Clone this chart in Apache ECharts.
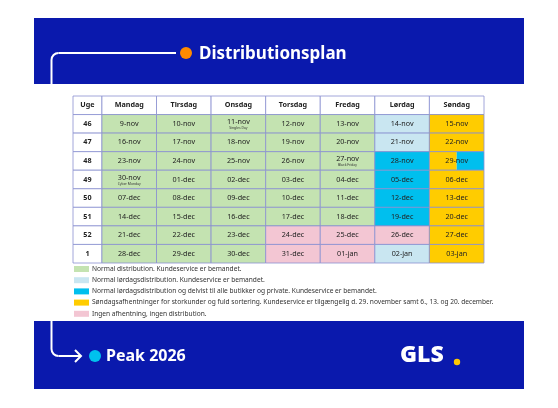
<!DOCTYPE html>
<html><head><meta charset="utf-8">
<script src="https://cdn.jsdelivr.net/npm/echarts@6/dist/echarts.min.js"></script>
<style>html,body{margin:0;padding:0;background:#fff}#c{width:558px;height:408px}</style>
</head><body><div id="c"></div>
<script>
const headers = ['Uge','Mandag','Tirsdag','Onsdag','Torsdag','Fredag','Lørdag','Søndag'];
const weeks = ['46','47','48','49','50','51','52','1'];
const dates = [
 ['9-nov','10-nov','11-nov','12-nov','13-nov','14-nov','15-nov'],
 ['16-nov','17-nov','18-nov','19-nov','20-nov','21-nov','22-nov'],
 ['23-nov','24-nov','25-nov','26-nov','27-nov','28-nov','29-nov'],
 ['30-nov','01-dec','02-dec','03-dec','04-dec','05-dec','06-dec'],
 ['07-dec','08-dec','09-dec','10-dec','11-dec','12-dec','13-dec'],
 ['14-dec','15-dec','16-dec','17-dec','18-dec','19-dec','20-dec'],
 ['21-dec','22-dec','23-dec','24-dec','25-dec','26-dec','27-dec'],
 ['28-dec','29-dec','30-dec','31-dec','01-jan','02-jan','03-jan']
];
const status = [
 'NNNNNLS','NNNNNLS','NNNNNDB','NNNNNDS','NNNNNDS','NNNNNDS','NNNXXXS','NNNXXLS'
];
const notes = {'11-nov':'Singles Day','30-nov':'Cyber Monday','27-nov':'Black Friday'};
const legendCodes = ['N','L','D','S','X'];
const legendTexts = [
 'Normal distribution. Kundeservice er bemandet.',
 'Normal lørdagsdistribution. Kundeservice er bemandet.',
 'Normal lørdagsdistribution og delvist til alle butikker og private. Kundeservice er bemandet.',
 'Søndagsafhentninger for storkunder og fuld sortering. Kundeservice er tilgængelig d. 29. november samt 6., 13. og 20. december.',
 'Ingen afhentning, ingen distribution.'
];
const colors = {N:'#c4e3b1',L:'#c9e6f1',D:'#00bfee',S:'#ffcc00',X:'#f3c6d3',H:'#ffffff'};
const blue = '#0a19ad';

const data = [];
headers.forEach((h,i)=>data.push([i,0,h,'H','', '',1]));
weeks.forEach((w,r)=>{
  data.push([0,r+1,w,'H','', '',1]);
  dates[r].forEach((d,c)=>{
    const s=status[r][c];
    if(s==='B') data.push([c+1,r+1,d,'S',notes[d]||'','D',0]);
    else data.push([c+1,r+1,d,s,notes[d]||'','',0]);
  });
});
const ugeW = 0.53;
const chart = echarts.init(document.getElementById('c'));
const FONT = '"Noto Sans", sans-serif';
const legendG = [];
legendTexts.forEach((t,i)=>{
  legendG.push({type:'rect',shape:{x:74,y:266+i*11.2,width:15,height:6},style:{fill:colors[legendCodes[i]]}});
  legendG.push({type:'text',style:{x:92,y:269+i*11.2,text:t,fill:'#333',font:'6.6px '+FONT,verticalAlign:'middle'}});
});
const ws = {stroke:'#fff',lineWidth:2,fill:null};
chart.setOption({
  animation:false,
  grid:{left:73,top:96,right:74,bottom:145},
  xAxis:{type:'value',min:-ugeW,max:7,show:false},
  yAxis:{type:'category',inverse:true,data:['h'].concat(weeks),show:false},
  series:[{type:'custom',data:data,renderItem:function(params,api){
    const c=api.value(0), r=api.value(1);
    const x0=c===0?-ugeW:c-1, x1=c===0?0:c;
    const p0=api.coord([x0,r]), p1=api.coord([x1,r]);
    const h=api.size([0,1])[1];
    const y=p0[1]-h/2, x=p0[0], w=p1[0]-p0[0];
    const code=api.value(3), code2=api.value(5), note=api.value(4), bold=api.value(6)===1;
    const ch=[];
    if(code2){
      ch.push({type:'rect',shape:{x:x,y:y,width:w/2,height:h},style:{fill:colors[code]}});
      ch.push({type:'rect',shape:{x:x+w/2,y:y,width:w/2,height:h},style:{fill:colors[code2]}});
    } else ch.push({type:'rect',shape:{x:x,y:y,width:w,height:h},style:{fill:colors[code]}});
    ch.push({type:'rect',shape:{x:x,y:y,width:w,height:h},style:{fill:'transparent',stroke:'#8a90d0',lineWidth:0.8}});
    ch.push({type:'text',style:{x:x+w/2,y:note?y+h/2-1.5:y+h/2,text:String(api.value(2)),align:'center',verticalAlign:'middle',fill:'#222',font:(bold?'bold 7.2px ':'7.2px ')+FONT}});
    if(note) ch.push({type:'text',style:{x:x+w/2,y:y+h/2+4.5,text:String(note),align:'center',verticalAlign:'middle',fill:'#333',font:'3.4px '+FONT}});
    return {type:'group',children:ch};
  }}],
  graphic:[
    {type:'rect',shape:{x:34,y:18,width:490,height:66},style:{fill:blue}},
    {type:'rect',shape:{x:34,y:321,width:490,height:68},style:{fill:blue}},
    {type:'line',shape:{x1:51.5,y1:84,x2:51.5,y2:60},style:ws},
    {type:'arc',shape:{cx:58.5,cy:60,r:7,startAngle:Math.PI,endAngle:1.5*Math.PI},style:ws},
    {type:'line',shape:{x1:58.5,y1:53,x2:176,y2:53},style:ws},
    {type:'circle',shape:{cx:186,cy:53,r:6},style:{fill:'#ff8a00'}},
    {type:'text',style:{x:199,y:54,text:'Distributionsplan',fill:'#fff',font:'bold 17px '+FONT,verticalAlign:'middle'}},
    {type:'line',shape:{x1:51.5,y1:321,x2:51.5,y2:349},style:ws},
    {type:'arc',shape:{cx:58.5,cy:349,r:7,startAngle:0.5*Math.PI,endAngle:Math.PI},style:ws},
    {type:'line',shape:{x1:58.5,y1:356,x2:81,y2:356},style:ws},
    {type:'polyline',shape:{points:[[75,350],[81,356],[75,362]]},style:ws},
    {type:'circle',shape:{cx:95,cy:356,r:6},style:{fill:'#00c2ee'}},
    {type:'text',style:{x:106,y:356,text:'Peak 2026',fill:'#fff',font:'bold 16px '+FONT,verticalAlign:'middle'}},
    {type:'text',style:{x:400,y:355,text:'GLS',fill:'#fff',font:'900 23px '+FONT,verticalAlign:'middle'}},
    {type:'circle',shape:{cx:457,cy:362,r:3.2},style:{fill:'#ffc800'}}
  ].concat(legendG)
});
</script></body></html>
